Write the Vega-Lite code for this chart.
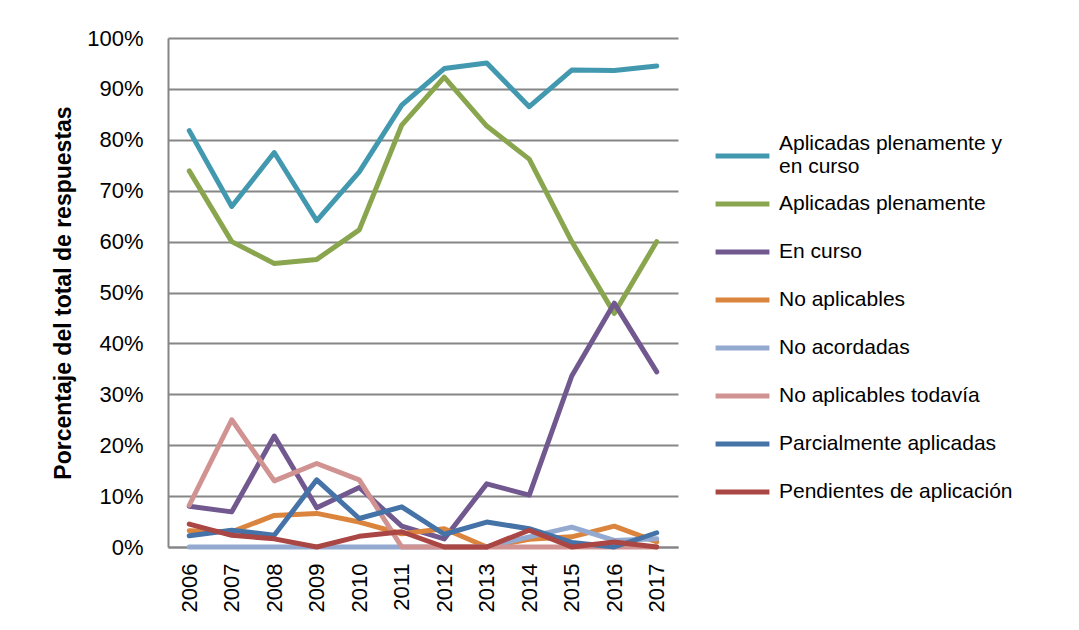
{
  "$schema": "https://vega.github.io/schema/vega-lite/v6.json",
  "autosize": "none",
  "width": 510,
  "height": 509,
  "padding": {"left": 168, "top": 38, "right": 401, "bottom": 83},
  "background": "white",
  "config": {
    "view": {"stroke": null},
    "font": "Liberation Sans"
  },
  "data": {
    "values": [
      {"anio": "2006", "serie": "Aplicadas plenamente y en curso", "valor": 81.8},
      {"anio": "2007", "serie": "Aplicadas plenamente y en curso", "valor": 66.9},
      {"anio": "2008", "serie": "Aplicadas plenamente y en curso", "valor": 77.5},
      {"anio": "2009", "serie": "Aplicadas plenamente y en curso", "valor": 64.1},
      {"anio": "2010", "serie": "Aplicadas plenamente y en curso", "valor": 73.7},
      {"anio": "2011", "serie": "Aplicadas plenamente y en curso", "valor": 86.8},
      {"anio": "2012", "serie": "Aplicadas plenamente y en curso", "valor": 94.0},
      {"anio": "2013", "serie": "Aplicadas plenamente y en curso", "valor": 95.1},
      {"anio": "2014", "serie": "Aplicadas plenamente y en curso", "valor": 86.5},
      {"anio": "2015", "serie": "Aplicadas plenamente y en curso", "valor": 93.7},
      {"anio": "2016", "serie": "Aplicadas plenamente y en curso", "valor": 93.6},
      {"anio": "2017", "serie": "Aplicadas plenamente y en curso", "valor": 94.5},
      {"anio": "2006", "serie": "Aplicadas plenamente", "valor": 73.9},
      {"anio": "2007", "serie": "Aplicadas plenamente", "valor": 60.0},
      {"anio": "2008", "serie": "Aplicadas plenamente", "valor": 55.7},
      {"anio": "2009", "serie": "Aplicadas plenamente", "valor": 56.5},
      {"anio": "2010", "serie": "Aplicadas plenamente", "valor": 62.3},
      {"anio": "2011", "serie": "Aplicadas plenamente", "valor": 82.9},
      {"anio": "2012", "serie": "Aplicadas plenamente", "valor": 92.3},
      {"anio": "2013", "serie": "Aplicadas plenamente", "valor": 82.7},
      {"anio": "2014", "serie": "Aplicadas plenamente", "valor": 76.2},
      {"anio": "2015", "serie": "Aplicadas plenamente", "valor": 60.0},
      {"anio": "2016", "serie": "Aplicadas plenamente", "valor": 45.9},
      {"anio": "2017", "serie": "Aplicadas plenamente", "valor": 60.0},
      {"anio": "2006", "serie": "En curso", "valor": 8.0},
      {"anio": "2007", "serie": "En curso", "valor": 6.9},
      {"anio": "2008", "serie": "En curso", "valor": 21.8},
      {"anio": "2009", "serie": "En curso", "valor": 7.7},
      {"anio": "2010", "serie": "En curso", "valor": 11.7},
      {"anio": "2011", "serie": "En curso", "valor": 4.1},
      {"anio": "2012", "serie": "En curso", "valor": 1.6},
      {"anio": "2013", "serie": "En curso", "valor": 12.4},
      {"anio": "2014", "serie": "En curso", "valor": 10.2},
      {"anio": "2015", "serie": "En curso", "valor": 33.6},
      {"anio": "2016", "serie": "En curso", "valor": 47.9},
      {"anio": "2017", "serie": "En curso", "valor": 34.4},
      {"anio": "2006", "serie": "No aplicables", "valor": 3.2},
      {"anio": "2007", "serie": "No aplicables", "valor": 3.0},
      {"anio": "2008", "serie": "No aplicables", "valor": 6.2},
      {"anio": "2009", "serie": "No aplicables", "valor": 6.6},
      {"anio": "2010", "serie": "No aplicables", "valor": 4.9},
      {"anio": "2011", "serie": "No aplicables", "valor": 2.6},
      {"anio": "2012", "serie": "No aplicables", "valor": 3.6},
      {"anio": "2013", "serie": "No aplicables", "valor": 0.0},
      {"anio": "2014", "serie": "No aplicables", "valor": 1.5},
      {"anio": "2015", "serie": "No aplicables", "valor": 2.0},
      {"anio": "2016", "serie": "No aplicables", "valor": 4.1},
      {"anio": "2017", "serie": "No aplicables", "valor": 1.0},
      {"anio": "2006", "serie": "No acordadas", "valor": 0.0},
      {"anio": "2007", "serie": "No acordadas", "valor": 0.0},
      {"anio": "2008", "serie": "No acordadas", "valor": 0.0},
      {"anio": "2009", "serie": "No acordadas", "valor": 0.0},
      {"anio": "2010", "serie": "No acordadas", "valor": 0.0},
      {"anio": "2011", "serie": "No acordadas", "valor": 0.0},
      {"anio": "2012", "serie": "No acordadas", "valor": 0.0},
      {"anio": "2013", "serie": "No acordadas", "valor": 0.0},
      {"anio": "2014", "serie": "No acordadas", "valor": 2.0},
      {"anio": "2015", "serie": "No acordadas", "valor": 3.9},
      {"anio": "2016", "serie": "No acordadas", "valor": 1.3},
      {"anio": "2017", "serie": "No acordadas", "valor": 1.6},
      {"anio": "2006", "serie": "No aplicables todavía", "valor": 8.2},
      {"anio": "2007", "serie": "No aplicables todavía", "valor": 25.0},
      {"anio": "2008", "serie": "No aplicables todavía", "valor": 13.0},
      {"anio": "2009", "serie": "No aplicables todavía", "valor": 16.4},
      {"anio": "2010", "serie": "No aplicables todavía", "valor": 13.2},
      {"anio": "2011", "serie": "No aplicables todavía", "valor": 0.0},
      {"anio": "2012", "serie": "No aplicables todavía", "valor": 0.0},
      {"anio": "2013", "serie": "No aplicables todavía", "valor": 0.0},
      {"anio": "2014", "serie": "No aplicables todavía", "valor": 0.0},
      {"anio": "2015", "serie": "No aplicables todavía", "valor": 0.0},
      {"anio": "2016", "serie": "No aplicables todavía", "valor": 0.0},
      {"anio": "2017", "serie": "No aplicables todavía", "valor": 0.0},
      {"anio": "2006", "serie": "Parcialmente aplicadas", "valor": 2.2},
      {"anio": "2007", "serie": "Parcialmente aplicadas", "valor": 3.3},
      {"anio": "2008", "serie": "Parcialmente aplicadas", "valor": 2.3},
      {"anio": "2009", "serie": "Parcialmente aplicadas", "valor": 13.2},
      {"anio": "2010", "serie": "Parcialmente aplicadas", "valor": 5.6},
      {"anio": "2011", "serie": "Parcialmente aplicadas", "valor": 7.9},
      {"anio": "2012", "serie": "Parcialmente aplicadas", "valor": 2.5},
      {"anio": "2013", "serie": "Parcialmente aplicadas", "valor": 4.9},
      {"anio": "2014", "serie": "Parcialmente aplicadas", "valor": 3.6},
      {"anio": "2015", "serie": "Parcialmente aplicadas", "valor": 0.9},
      {"anio": "2016", "serie": "Parcialmente aplicadas", "valor": 0.0},
      {"anio": "2017", "serie": "Parcialmente aplicadas", "valor": 2.8},
      {"anio": "2006", "serie": "Pendientes de aplicación", "valor": 4.5},
      {"anio": "2007", "serie": "Pendientes de aplicación", "valor": 2.3},
      {"anio": "2008", "serie": "Pendientes de aplicación", "valor": 1.6},
      {"anio": "2009", "serie": "Pendientes de aplicación", "valor": 0.0},
      {"anio": "2010", "serie": "Pendientes de aplicación", "valor": 2.1},
      {"anio": "2011", "serie": "Pendientes de aplicación", "valor": 3.0},
      {"anio": "2012", "serie": "Pendientes de aplicación", "valor": 0.0},
      {"anio": "2013", "serie": "Pendientes de aplicación", "valor": 0.0},
      {"anio": "2014", "serie": "Pendientes de aplicación", "valor": 3.3},
      {"anio": "2015", "serie": "Pendientes de aplicación", "valor": 0.0},
      {"anio": "2016", "serie": "Pendientes de aplicación", "valor": 1.0},
      {"anio": "2017", "serie": "Pendientes de aplicación", "valor": 0.0}
    ]
  },
  "mark": {"type": "line", "strokeWidth": 5, "strokeCap": "round", "strokeJoin": "round"},
  "encoding": {
    "x": {
      "field": "anio",
      "type": "ordinal",
      "scale": {"type": "point", "padding": 0.5},
      "axis": {
        "title": null,
        "labelAngle": -90,
        "labelFontSize": 22,
        "labelColor": "black",
        "labelPadding": 16,
        "ticks": false,
        "domainColor": "#868686",
        "domainWidth": 2,
        "grid": false
      }
    },
    "y": {
      "field": "valor",
      "type": "quantitative",
      "scale": {"domain": [0, 100], "nice": false},
      "axis": {
        "title": "Porcentaje del total de respuestas",
        "titleFontSize": 23,
        "titleFontWeight": "bold",
        "titleColor": "black",
        "titlePadding": 11,
        "values": [0, 10, 20, 30, 40, 50, 60, 70, 80, 90, 100],
        "labelExpr": "datum.value + '%'",
        "labelFontSize": 22,
        "labelColor": "black",
        "labelPadding": 25,
        "ticks": false,
        "domainColor": "#868686",
        "domainWidth": 2,
        "gridColor": "#868686",
        "gridWidth": 2
      }
    },
    "color": {
      "field": "serie",
      "type": "nominal",
      "scale": {
        "domain": ["Aplicadas plenamente y en curso", "Aplicadas plenamente", "En curso", "No aplicables", "No acordadas", "No aplicables todavía", "Parcialmente aplicadas", "Pendientes de aplicación"],
        "range": ["#4198AF", "#89A54E", "#71588F", "#DB843D", "#93A9CF", "#D19392", "#4572A7", "#AA4643"]
      },
      "legend": {
        "title": null,
        "orient": "none",
        "legendX": 545,
        "legendY": 94,
        "gridAlign": "all",
        "clipHeight": 48,
        "symbolType": "stroke",
        "symbolSize": 2900,
        "symbolStrokeWidth": 5,
        "labelFontSize": 21,
        "labelColor": "black",
        "labelOffset": 7,
        "labelLimit": 400,
        "rowPadding": 0,
        "labelExpr": "datum.label == 'Aplicadas plenamente y en curso' ? ['Aplicadas plenamente y', 'en curso'] : datum.label",
        "encode": {
          "labels": {
            "update": {
              "dy": {"signal": "datum.value == 'Aplicadas plenamente y en curso' ? -12 : 0"}
            }
          }
        }
      }
    }
  }
}
